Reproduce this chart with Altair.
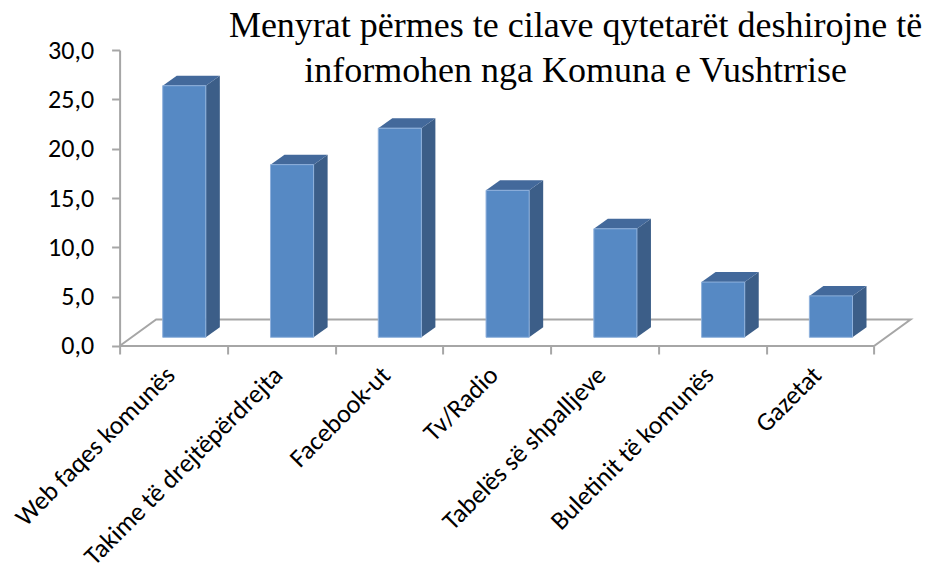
import altair as alt
import pandas as pd

# ---- data ----
categories = [
    "Web faqes komunës",
    "Takime të drejtëpërdrejta",
    "Facebook-ut",
    "Tv/Radio",
    "Tabelës së shpalljeve",
    "Buletinit të komunës",
    "Gazetat",
]
values = [25.5, 17.5, 21.2, 14.9, 11.0, 5.6, 4.2]
y_ticks = [0, 5, 10, 15, 20, 25, 30]
title_lines = [
    "Menyrat përmes  te cilave qytetarët deshirojne të",
    "informohen  nga  Komuna e Vushtrrise",
]

# ---- 3D styling constants (in axis units) ----
FRONT_L, FRONT_R = -0.1, 0.3      # front face extent relative to category centre
SIDE_DX, SIDE_DV = 0.13, 1.01     # depth of a bar
BASE = 0.88                       # bars stand a bit behind the front floor edge
FLOOR_DX, FLOOR_DV = 0.339, 2.69  # depth of the floor
n = len(categories)

FRONT_COL = "#5689c4"
SIDE_COL = "#3c5e88"
TOP_COL = "#43699b"
GRID_COL = "#a6a6a6"
FONT = "Carlito, Calibri, Lato, sans-serif"

# ---- tables built from the arrays ----
front = pd.DataFrame({
    "cat": categories,
    "x": [i + FRONT_L for i in range(n)],
    "x2": [i + FRONT_R for i in range(n)],
    "y": [BASE] * n,
    "y2": [BASE + v for v in values],
})

side_rows, top_rows = [], []
for i, (c, v) in enumerate(zip(categories, values)):
    L, R, t = i + FRONT_L, i + FRONT_R, BASE + v
    side_rows += [
        {"cat": c, "x": R, "y": BASE, "y2": t},
        {"cat": c, "x": R + SIDE_DX, "y": BASE + SIDE_DV, "y2": t + SIDE_DV},
    ]
    top_rows += [
        {"cat": c, "x": L, "y": t, "y2": t},
        {"cat": c, "x": L + SIDE_DX, "y": t, "y2": t + SIDE_DV},
        {"cat": c, "x": R, "y": t, "y2": t + SIDE_DV},
        {"cat": c, "x": R + SIDE_DX, "y": t + SIDE_DV, "y2": t + SIDE_DV},
    ]
side = pd.DataFrame(side_rows)
top = pd.DataFrame(top_rows)

floor = pd.DataFrame({
    "o": [0, 1, 2, 3, 4],
    "x": [-0.5, n - 0.5, n - 0.5 + FLOOR_DX, -0.5 + FLOOR_DX, -0.5],
    "y": [0, 0, FLOOR_DV, FLOOR_DV, 0],
})

labels = pd.DataFrame({"cat": categories, "x": list(range(n)), "y": [0] * n})

xscale = alt.Scale(domain=[-0.5, n - 0.5 + FLOOR_DX], nice=False, zero=False)
yscale = alt.Scale(domain=[0, 30], nice=False, zero=False)

floor_layer = alt.Chart(floor).mark_line(color=GRID_COL, strokeWidth=2).encode(
    x=alt.X("x:Q", scale=xscale, title=None,
            axis=alt.Axis(values=[i - 0.5 for i in range(n + 1)], labels=False,
                          domain=False, grid=False, ticks=True, tickSize=8,
                          tickColor=GRID_COL, tickWidth=2)),
    y=alt.Y("y:Q", scale=yscale, title=None,
            axis=alt.Axis(values=y_ticks, grid=False, domainColor=GRID_COL,
                          domainWidth=2, tickColor=GRID_COL, tickWidth=2, tickSize=8,
                          labelExpr="replace(format(datum.value, '.1f'), '.', ',')",
                          labelFont=FONT, labelFontSize=26, labelColor="#000000",
                          labelPadding=18)),
    order="o:O",
)

side_layer = alt.Chart(side).mark_area(color=SIDE_COL, opacity=1).encode(
    x=alt.X("x:Q", scale=xscale),
    y=alt.Y("y:Q", scale=yscale, stack=None), y2="y2:Q",
    detail="cat:N",
)
top_layer = alt.Chart(top).mark_area(color=TOP_COL, opacity=1).encode(
    x=alt.X("x:Q", scale=xscale),
    y=alt.Y("y:Q", scale=yscale, stack=None), y2="y2:Q",
    detail="cat:N",
)
front_layer = alt.Chart(front).mark_rect(
    color=FRONT_COL, stroke="#8fb1dc", strokeWidth=1
).encode(
    x=alt.X("x:Q", scale=xscale), x2="x2:Q",
    y=alt.Y("y:Q", scale=yscale), y2="y2:Q",
)

label_layer = alt.Chart(labels).mark_text(
    angle=315, align="right", baseline="top", font=FONT, fontSize=26,
    color="#000000", xOffset=-12, yOffset=16,
).encode(
    x=alt.X("x:Q", scale=xscale), y=alt.Y("y:Q", scale=yscale), text="cat:N",
)

title_layer = alt.Chart(pd.DataFrame({"t": ["\n".join(title_lines)]})).mark_text(
    align="center", baseline="alphabetic", lineBreak="\n", lineHeight=45,
    font="Palatino Linotype, Book Antiqua, Liberation Serif, serif",
    fontSize=36, color="#000000",
).encode(
    x=alt.value(456), y=alt.value(-13), text="t:N",
)

chart = alt.layer(
    floor_layer, side_layer, top_layer, front_layer, label_layer, title_layer
).properties(
    width=791, height=296, autosize="none",
    padding={"left": 111.6, "top": 42, "right": 17, "bottom": 219},
    background="#ffffff",
).configure_view(stroke=None)

chart.save("out.html", embed_options={"renderer": "svg", "actions": False})
